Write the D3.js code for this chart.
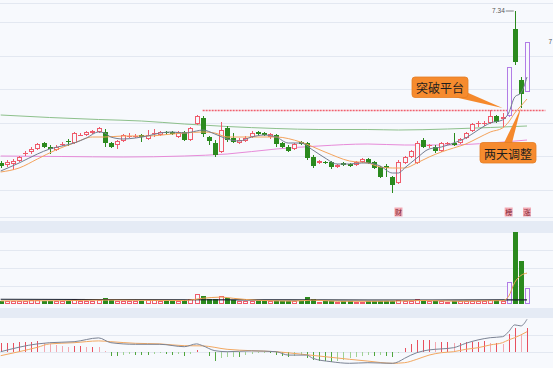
<!DOCTYPE html>
<html>
<head>
<meta charset="utf-8">
<script src="https://cdn.jsdelivr.net/npm/d3@7"></script>
<style>
  html, body { margin: 0; padding: 0; background: #f7f9fd; }
  svg { display: block; }
</style>
</head>
<body>
<div class="chart"></div>
<script>
// ---- daily candles ----
var opens = [5.82,5.80,5.81,5.84,5.91,5.93,5.96,6.02,5.98,5.95,
  6.00,6.04,6.02,6.09,6.10,6.12,6.13,6.13,6.02,6.00,
  6.04,6.08,6.08,6.10,6.06,6.11,6.10,6.13,6.13,6.08,
  6.13,6.05,6.21,6.27,6.08,6.02,5.93,6.17,6.07,6.02,
  6.04,6.08,6.13,6.12,6.08,6.10,6.02,5.98,5.96,6.03,
  6.02,5.88,5.82,5.83,5.83,5.78,5.82,5.81,5.80,5.83,
  5.86,5.83,5.78,5.79,5.68,5.62,5.82,5.88,5.82,6.05,
  5.99,5.98,5.94,6.01,6.02,6.02,6.07,6.14,6.21,6.21,
  6.22,6.29,6.26,6.29,7.16,6.65,6.53];
var highs = [5.84,5.85,5.86,5.89,5.94,5.98,6.02,6.03,6.00,6.00,
  6.03,6.06,6.13,6.12,6.14,6.15,6.18,6.16,6.03,6.05,
  6.11,6.12,6.11,6.11,6.15,6.16,6.14,6.14,6.14,6.14,
  6.14,6.18,6.30,6.29,6.09,6.05,6.23,6.19,6.12,6.07,
  6.09,6.14,6.14,6.13,6.12,6.11,6.03,6.00,6.02,6.04,
  6.03,5.90,5.85,5.84,5.84,5.81,5.83,5.82,5.84,5.87,
  5.87,5.84,5.79,5.81,5.69,5.85,5.89,5.95,6.04,6.07,
  6.01,6.00,6.03,6.03,6.12,6.07,6.13,6.22,6.24,6.24,
  6.35,6.30,6.32,6.78,7.34,6.68,7.03];
var lows = [5.77,5.78,5.75,5.83,5.89,5.91,5.95,5.97,5.91,5.94,
  5.99,5.99,6.01,6.09,6.09,6.11,6.12,5.98,5.97,5.96,
  6.03,6.07,6.07,6.03,6.05,6.08,6.09,6.10,6.10,6.07,
  6.04,6.04,6.20,6.08,6.00,5.88,5.92,6.03,6.02,6.01,
  6.03,6.07,6.10,6.09,6.06,5.98,5.97,5.93,5.95,6.00,
  5.85,5.77,5.81,5.81,5.76,5.77,5.79,5.78,5.79,5.82,
  5.81,5.76,5.67,5.68,5.52,5.61,5.81,5.87,5.81,5.97,
  5.97,5.92,5.93,6.00,5.99,6.01,6.06,6.13,6.18,6.19,
  6.21,6.22,6.18,6.28,6.80,6.37,6.53];
var closes = [5.79,5.83,5.84,5.88,5.92,5.96,6.01,5.98,5.96,5.98,
  6.01,6.03,6.12,6.10,6.13,6.14,6.17,6.02,5.98,6.04,
  6.10,6.09,6.09,6.08,6.10,6.12,6.13,6.12,6.11,6.13,
  6.05,6.17,6.29,6.11,6.04,5.90,6.15,6.05,6.03,6.05,
  6.07,6.12,6.11,6.10,6.11,6.01,5.98,5.94,6.01,6.01,
  5.87,5.79,5.84,5.82,5.78,5.80,5.80,5.79,5.83,5.86,
  5.82,5.77,5.68,5.77,5.60,5.83,5.88,5.94,6.02,5.98,
  6.00,5.94,6.02,6.02,6.00,6.06,6.12,6.21,6.22,6.22,
  6.29,6.23,6.28,6.78,6.83,6.51,7.03];
var limitUp = [83, 86];

// moving averages as read: [candle index, price]
var ma5Pts = [[0,5.74],[3,5.82],[6,5.91],[8,5.96],[10,5.99],[12,6.02],[14,6.07],[16,6.13],[17,6.12],[18,6.08],
  [20,6.06],[22,6.07],[24,6.09],[26,6.12],[28,6.13],[30,6.12],[32,6.14],[33,6.15],[35,6.11],[37,6.06],
  [39,6.04],[41,6.08],[43,6.10],[45,6.08],[47,6.02],[49,6.02],[51,5.95],[53,5.87],[55,5.81],[57,5.81],
  [59,5.82],[60,5.82],[62,5.79],[64,5.72],[65,5.72],[66,5.77],[68,5.87],[70,5.96],[72,5.98],[74,6.02],
  [76,6.07],[78,6.15],[80,6.22],[82,6.25],[83,6.32],[84,6.48],[85,6.52],[86,6.68]];
var ma10Pts = [[0,5.73],[3,5.77],[6,5.86],[9,5.95],[12,6.02],[15,6.08],[17,6.08],[20,6.09],[24,6.09],[28,6.11],
  [30,6.12],[33,6.13],[35,6.12],[37,6.08],[41,6.08],[45,6.08],[49,6.03],[53,5.93],[57,5.84],[60,5.82],
  [62,5.78],[64,5.77],[66,5.77],[68,5.82],[70,5.88],[72,5.93],[74,5.97],[76,6.01],[78,6.07],[80,6.13],
  [82,6.17],[83,6.23],[84,6.32],[85,6.39],[86,6.46]];
var ma60Pts = [[0,5.89],[10,5.885],[20,5.88],[30,5.89],[37,5.91],[45,5.96],[52,5.99],[60,6.01],[66,6.00],[73,6.00],[80,6.02],[86,6.05]];
var ma120Pts = [[0,6.30],[8,6.275],[16,6.255],[23,6.24],[30,6.21],[37,6.185],[45,6.165],[52,6.155],[60,6.155],[65,6.15],[73,6.16],[80,6.175],[86,6.19]];

var platformPrice = 6.345, platformFrom = 33, platformTo = 89;

// volume (10k lots)
var volumes = [1.5,1.75,1.75,1.75,1.75,2,2.25,1.75,1.75,1.75,
  1.75,1.75,2.5,1.75,1.75,1.75,2,3.25,2,1.75,
  1.75,1.5,1.75,1.5,2.25,2,1.75,1.5,1.5,1.75,
  2,2.5,5,4,2.5,2.5,4,3,2,1.75,
  1.75,1.75,1.5,1.5,1.5,1.75,1.5,1.5,1.5,1.5,
  3.5,2.5,1.25,1.5,1.5,1.25,1.5,1.5,1.25,1.25,
  1.5,1.5,1.5,1.5,1.75,2.25,1.5,1.5,2.75,1.75,
  1.5,1.75,1.5,1.25,1.5,1.5,1.75,1.75,1.75,1.75,
  2.25,2,1.5,11,36,21.5,8];
var volMa5Pts = [[0,1.7],[10,1.8],[17,2.1],[22,2.0],[30,1.9],[33,3.0],[36,3.6],[38,3.0],[42,2.0],[48,1.6],
  [51,2.1],[55,1.5],[62,1.5],[66,1.7],[69,1.9],[75,1.5],[80,1.8],[82,1.8],[83,4.0],[84,11],[85,14.4],[86,15.6]];
var volMaLongPts = [[0,2.5],[30,2.3],[60,2.15],[86,2.2]];

// MACD
var macdHist = [0.047,0.047,0.049,0.051,0.053,0.054,0.056,0.048,0.041,0.037,
  0.033,0.028,0.033,0.033,0.028,0.028,0.025,0.008,-0.018,-0.018,
  -0.014,-0.010,-0.014,-0.014,-0.014,-0.010,-0.005,-0.008,-0.014,-0.008,
  -0.018,-0.008,0.012,0.002,-0.018,-0.042,-0.030,-0.025,-0.022,-0.022,
  -0.014,-0.010,-0.005,-0.002,-0.002,-0.014,-0.018,-0.022,-0.018,-0.014,
  -0.030,-0.038,-0.044,-0.044,-0.047,-0.044,-0.038,-0.030,-0.022,-0.018,
  -0.014,-0.018,-0.014,-0.017,-0.022,-0.002,0.020,0.041,0.061,0.061,
  0.061,0.053,0.053,0.053,0.045,0.045,0.053,0.053,0.053,0.058,
  0.048,0.048,0.041,0.091,0.120,0.091,0.120];
var difPts = [[0,0.003],[6,0.042],[8,0.048],[12,0.053],[16,0.072],[18,0.048],[22,0.040],[26,0.040],[30,0.028],[32,0.042],
  [33,0.033],[35,0.008],[37,0.003],[41,0.007],[45,0.003],[47,-0.014],[50,-0.014],[51,-0.030],[54,-0.047],[57,-0.055],
  [60,-0.052],[64,-0.055],[65,-0.047],[66,-0.030],[68,-0.002],[70,0.012],[72,0.017],[74,0.023],[76,0.045],[78,0.062],
  [80,0.073],[82,0.078],[83,0.103],[84,0.137],[85,0.132],[86,0.165]];
var deaPts = [[0,-0.017],[3,0.003],[6,0.025],[8,0.042],[12,0.048],[16,0.057],[18,0.053],[22,0.045],[26,0.042],[30,0.033],
  [33,0.032],[37,0.015],[41,0.008],[45,0.003],[49,-0.009],[53,-0.022],[57,-0.035],[60,-0.044],[64,-0.055],[66,-0.052],
  [68,-0.035],[70,-0.014],[72,-0.002],[74,0.003],[76,0.015],[78,0.023],[80,0.037],[82,0.048],[83,0.062],[84,0.073],
  [85,0.087],[86,0.103]];

// event tags above the volume pane
var tagIdx = [65, 83, 86];
var tagText = ['财', '榜', '涨'];

var width = 553, height = 368;
var bg = '#f7f9fd', gridColor = '#e3e8f1', bandColor = '#e5ebf5';
var red = '#ef5b6b', green = '#2b8a1e', purple = '#b27ce6';

var svg = d3.select('.chart').append('svg')
  .attr('width', width)
  .attr('height', height)
  .style('font-family', '"Noto Sans CJK SC", "Noto Sans", sans-serif');

svg.append('rect').attr('width', width).attr('height', height).attr('fill', bg);

// scales
var x = d3.scaleLinear().domain([0, 86]).range([0.7, 527]);
var y = d3.scaleLinear().domain([5.55, 7.34]).range([190, 11]);
var yv = d3.scaleLinear().domain([0, 36]).range([304.3, 232.3]);
var ym = d3.scaleLinear().domain([0, 0.1]).range([352.3, 332.3]);

function px(i) { return Math.round(x(i)); }

// pane header bands
svg.selectAll('.band').data([221, 308]).enter().append('rect')
  .attr('class', 'band')
  .attr('x', 0).attr('width', width)
  .attr('y', function (d) { return d; })
  .attr('height', function (d, i) { return i ? 10 : 12; })
  .attr('fill', bandColor);

// grid lines
var mainGrid = d3.scaleLinear().domain([0, 5]).range([190, 22]);
var volGrid = d3.scaleLinear().domain([0, 2]).range([286, 250]);
var macdGrid = d3.scaleLinear().domain([0, 1]).range([ym(0), 335]);
var gridYs = [3, 217].concat(d3.range(6).map(mainGrid), d3.range(3).map(volGrid), d3.range(2).map(macdGrid));
svg.append('g').attr('shape-rendering', 'crispEdges')
  .selectAll('line').data(gridYs).enter().append('line')
  .attr('x1', 0).attr('x2', width)
  .attr('y1', function (d) { return Math.round(d) + 0.5; })
  .attr('y2', function (d) { return Math.round(d) + 0.5; })
  .attr('stroke', gridColor);

function drawLine(pts, ys, color, w) {
  svg.append('path')
    .attr('d', d3.line()
      .x(function (d) { return x(d[0]); })
      .y(function (d) { return ys(d[1]); })
      .curve(d3.curveMonotoneX)(pts))
    .attr('fill', 'none')
    .attr('stroke', color)
    .attr('stroke-width', w || 1);
}

// long averages under the candles
drawLine(ma120Pts, y, '#8dc08b');
drawLine(ma60Pts, y, '#e78bd9');

// platform line
svg.append('line')
  .attr('x1', x(platformFrom)).attr('x2', x(platformTo))
  .attr('y1', y(platformPrice)).attr('y2', y(platformPrice))
  .attr('stroke', '#f0606e')
  .attr('stroke-width', 1.3)
  .attr('stroke-dasharray', '2,1');

// candles
var candles = d3.range(closes.length).map(function (i) {
  return { i: i, o: opens[i], h: highs[i], l: lows[i], c: closes[i] };
});
function candleColor(d) {
  if (limitUp.indexOf(d.i) >= 0) return purple;
  return d.c >= d.o ? red : green;
}
function hollow(d) { return d.c >= d.o; }

var gc = svg.append('g').attr('shape-rendering', 'crispEdges');
gc.selectAll('line').data(candles).enter().append('line')
  .attr('x1', function (d) { return px(d.i) + 0.5; })
  .attr('x2', function (d) { return px(d.i) + 0.5; })
  .attr('y1', function (d) { return Math.round(y(d.h)); })
  .attr('y2', function (d) { return Math.round(y(d.l)); })
  .attr('stroke', candleColor);

gc.selectAll('rect').data(candles).enter().append('rect')
  .each(function (d) {
    var top = Math.round(y(Math.max(d.o, d.c)));
    var bot = Math.round(y(Math.min(d.o, d.c)));
    var r = d3.select(this);
    if (hollow(d) && bot - top >= 2) {
      r.attr('x', px(d.i) - 1.5).attr('width', 4)
        .attr('y', top + 0.5).attr('height', bot - top - 1)
        .attr('fill', bg).attr('stroke', candleColor(d));
    } else {
      r.attr('x', px(d.i) - 2).attr('width', 5)
        .attr('y', top).attr('height', Math.max(1, bot - top))
        .attr('fill', candleColor(d));
    }
  });

// short averages on top
drawLine(ma10Pts, y, '#f4a35c');
drawLine(ma5Pts, y, '#737d90');

// high marker
var hiIdx = highs.indexOf(d3.max(highs));
svg.append('line')
  .attr('x1', x(hiIdx) - 9).attr('x2', x(hiIdx) - 1)
  .attr('y1', y(highs[hiIdx])).attr('y2', y(highs[hiIdx]))
  .attr('stroke', '#666').attr('stroke-width', 0.8);
svg.append('text')
  .attr('x', x(hiIdx) - 10).attr('y', y(highs[hiIdx]) + 2.3)
  .attr('text-anchor', 'end')
  .attr('fill', '#555')
  .style('font-size', '6.5px')
  .style('font-family', '"Liberation Sans", sans-serif')
  .text(d3.format('.2f')(highs[hiIdx]));
// last candle's high, only its first digit fits at the right edge
svg.append('text')
  .attr('x', 548.5).attr('y', y(highs[86]) + 2.3)
  .attr('fill', '#555')
  .style('font-size', '6.5px')
  .style('font-family', '"Liberation Sans", sans-serif')
  .text(d3.format('.0f')(Math.floor(highs[86])));

// annotations
function callout(label, bx, by, tip, base) {
  var g = svg.append('g');
  g.append('path')
    .attr('d', 'M' + base[0][0] + ',' + base[0][1] + 'L' + tip[0] + ',' + tip[1] + 'L' + base[1][0] + ',' + base[1][1] + 'Z')
    .attr('fill', '#f5892c');
  g.append('rect')
    .attr('x', bx).attr('y', by).attr('width', 56).attr('height', 20.5)
    .attr('rx', 3)
    .attr('fill', '#f68b2e')
    .attr('stroke', '#e47d24').attr('stroke-width', 0.8);
  g.append('text')
    .attr('x', bx + 28).attr('y', by + 10.5)
    .attr('text-anchor', 'middle')
    .attr('dominant-baseline', 'central')
    .attr('fill', '#1e1e1e')
    .style('font-size', '12px')
    .text(label);
}
var t1 = [x(82), y(6.37)];
callout('突破平台', 412, 77, t1, [[454, 97], [466, 92]]);
var t2 = [x(85), y(lows[85])];
callout('两天调整', 480, 142.5, t2, [[504, 143], [512, 143]]);

// volume
var vols = volumes.map(function (v, i) { return { i: i, v: v, up: closes[i] >= opens[i] }; });
var gv = svg.append('g').attr('shape-rendering', 'crispEdges');
gv.selectAll('rect').data(vols).enter().append('rect')
  .each(function (d) {
    var top = Math.round(yv(d.v)), bot = Math.round(yv(0));
    var col = limitUp.indexOf(d.i) >= 0 ? purple : (d.up ? red : green);
    var r = d3.select(this);
    if (d.up) {
      r.attr('x', px(d.i) - 1.5).attr('width', 4)
        .attr('y', top + 0.5).attr('height', bot - top - 1)
        .attr('fill', bg).attr('stroke', col);
    } else {
      r.attr('x', px(d.i) - 2).attr('width', 5)
        .attr('y', top).attr('height', bot - top)
        .attr('fill', col);
    }
  });
drawLine(volMaLongPts, yv, '#1b2230', 1.1);
drawLine(volMa5Pts, yv, '#f0a254');

// tags
var tags = svg.append('g').selectAll('g').data(tagIdx).enter().append('g')
  .attr('transform', function (d) { return 'translate(' + x(d) + ',212)'; });
tags.append('rect')
  .attr('x', -4).attr('y', -4.5).attr('width', 8).attr('height', 9)
  .attr('fill', '#f3a9b3');
tags.append('text')
  .attr('text-anchor', 'middle')
  .attr('dominant-baseline', 'central')
  .attr('fill', '#7c2230')
  .style('font-size', '7px')
  .text(function (d, i) { return tagText[i]; });

// MACD histogram
var gm = svg.append('g').attr('shape-rendering', 'crispEdges');
gm.selectAll('line').data(macdHist).enter().append('line')
  .attr('x1', function (d, i) { return px(i) + 0.5; })
  .attr('x2', function (d, i) { return px(i) + 0.5; })
  .attr('y1', ym(0))
  .attr('y2', function (d) { return ym(d); })
  .attr('stroke', function (d, i) {
    var prev = i ? macdHist[i - 1] : d;
    if (d >= 0) return d < prev ? '#f4a7b0' : '#e8505f';
    return Math.abs(d) < Math.abs(prev) ? '#9fd193' : '#4fa63d';
  });
drawLine(deaPts, ym, '#f2a861');
drawLine(difPts, ym, '#7b8394');
</script>
</body>
</html>
